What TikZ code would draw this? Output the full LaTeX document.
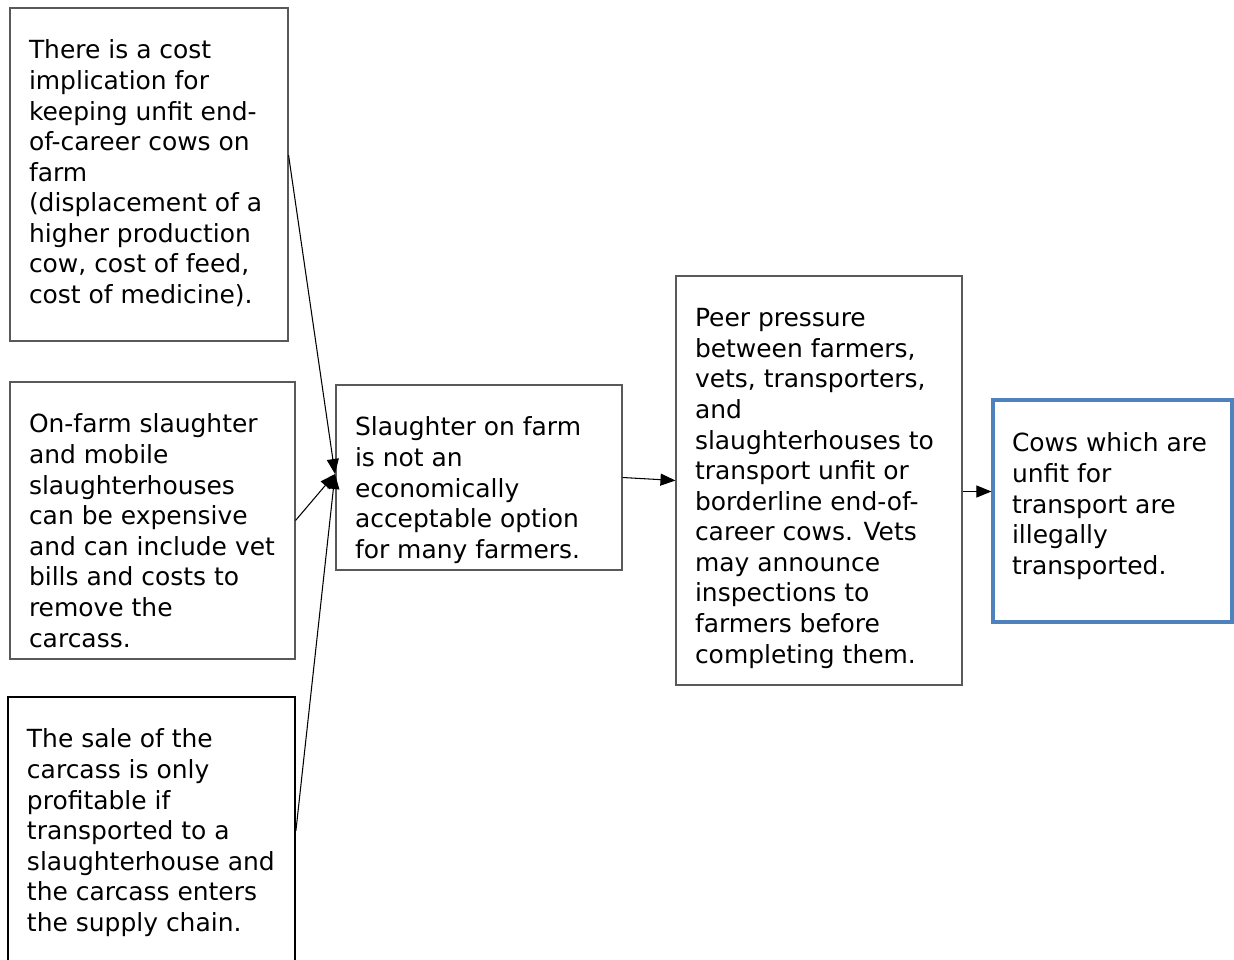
\documentclass[tikz,border=0pt]{standalone}
\usepackage{fontspec}
\setmainfont{DejaVu Sans}
\usepackage{tikz}
\usetikzlibrary{positioning,arrows.meta}
\definecolor{boxblue}{RGB}{79,129,189}
% text block, top aligned inside a box of given height
\newcommand{\boxtext}[3]{\parbox[c][#1][t]{#2}{\raggedright #3}}

\begin{document}
\begin{tikzpicture}[
  box/.style={draw=black!65, line width=0.6pt, inner xsep=0.38cm, font=\fontsize{14.2}{17.4}\selectfont},
  link/.style={-{Triangle[length=0.3cm,width=0.24cm]}, line width=0.6pt}
]
\useasboundingbox (0,0) rectangle (24.68,-19.2);

% Cost of keeping cows
\node[box, minimum width=5.56cm, minimum height=6.66cm] (cost) at (2.98,-3.49) {\boxtext{5.38cm}{4.80cm}{There is a cost\\implication for\\keeping unfit end-\\of-career cows on\\farm\\(displacement of a\\higher production\\cow, cost of feed,\\cost of medicine).}};

% On-farm slaughter
\node[box, minimum width=5.70cm, minimum height=5.54cm] (onfarm) at (3.05,-10.41) {\boxtext{4.26cm}{4.94cm}{On-farm slaughter\\and mobile\\slaughterhouses\\can be expensive\\and can include vet\\bills and costs to\\remove the\\carcass.}};

% Sale of carcass
\node[box, draw=black, line width=1pt, minimum width=5.74cm, minimum height=5.36cm] (sale) at (3.03,-16.62) {\boxtext{4.08cm}{4.98cm}{The sale of the\\carcass is only\\profitable if\\transported to a\\slaughterhouse and\\the carcass enters\\the supply chain.}};

% Not economically acceptable
\node[box, minimum width=5.72cm, minimum height=3.70cm] (option) at (9.58,-9.55) {\boxtext{2.42cm}{4.96cm}{Slaughter on farm\\is not an\\economically\\acceptable option\\for many farmers.}};

% Peer pressure
\node[box, minimum width=5.72cm, minimum height=8.18cm] (peer) at (16.38,-9.61) {\boxtext{6.88cm}{4.96cm}{Peer pressure\\between farmers,\\vets, transporters,\\and\\slaughterhouses to\\transport unfit or\\borderline end-of-\\career cows. Vets\\may announce\\inspections to\\farmers before\\completing them.}};

% Outcome
\node[box, draw=boxblue, line width=1.8pt, minimum width=4.78cm, minimum height=4.44cm] (outcome) at (22.25,-10.22) {\boxtext{3.12cm}{4.02cm}{Cows which are\\unfit for\\transport are\\illegally\\transported.}};

% Join point
\coordinate (join) at (6.70,-9.48);

% Arrows - causes
\draw[link] ([yshift=0.39cm]cost.east) -- (join);
\draw[link] (onfarm.east) -- (join);
\draw[link] (sale.east) -- (join);

% Arrows - chain
\draw[link] (option.east) -- (peer.west);
\draw[link] ([yshift=-0.22cm]peer.east) -- ([yshift=-0.22cm]peer.east -| outcome.west);

\end{tikzpicture}
\end{document}
